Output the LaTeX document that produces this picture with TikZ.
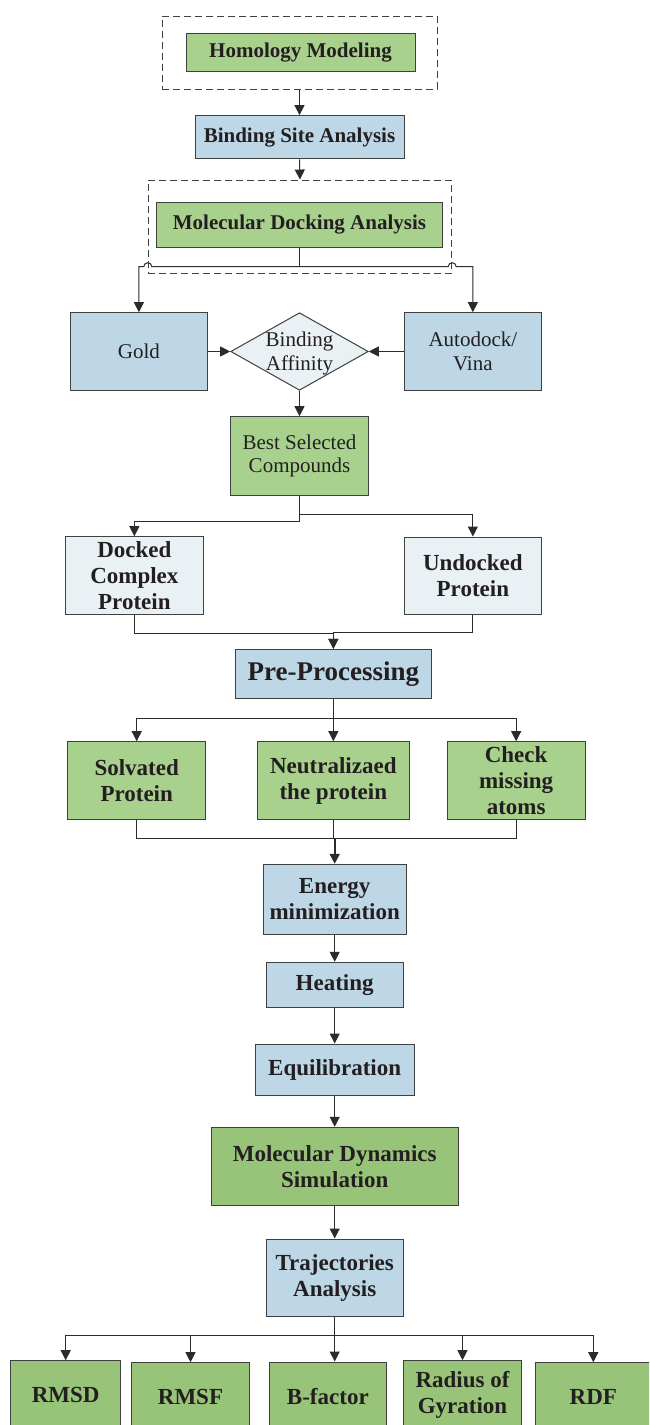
\documentclass[tikz,border=0pt]{standalone}
\usepackage{fontspec}
\setmainfont{Liberation Serif}
\usetikzlibrary{arrows.meta,shapes.geometric,calc}
\definecolor{gl}{HTML}{A9D18E}
\definecolor{gd}{HTML}{98C479}
\definecolor{bl}{HTML}{BDD7E7}
\definecolor{pl}{HTML}{E9F1F5}
\definecolor{lc}{HTML}{2B2B2B}
\definecolor{bd}{HTML}{404040}
\definecolor{tx}{HTML}{231F20}
\begin{document}
\begin{tikzpicture}[x=1pt,y=-1pt,
  box/.style={draw=bd, line width=1pt, inner sep=0pt, align=center, text=tx},
  bf/.style={font=\fontsize{23}{26}\selectfont\bfseries},
  bs/.style={font=\fontsize{21}{25}\selectfont\bfseries},
  rg/.style={font=\fontsize{21}{23.5}\selectfont},
  conn/.style={draw=lc, line width=1pt},
  arr/.style={draw=lc, line width=1pt, -{Triangle[length=10pt,width=10pt]}},
  dbox/.style={draw=bd, dash pattern=on 7pt off 4pt, line width=1pt, inner sep=0pt},
]
\useasboundingbox (0,0) rectangle (649,1425);
\clip (0,0) rectangle (649,1425);
\fill[white] (0,0) rectangle (649,1425);

% nodes
\node[dbox, minimum width=275pt, minimum height=73.3pt] (d1) at (299.5,52.65) {};
\node[box, bs, fill=gl, minimum width=229pt, minimum height=37.7pt] (hom) at (300.5,52.2) {Homology Modeling};
\node[box, bs, fill=bl, minimum width=209pt, minimum height=43.3pt] (bsa) at (299.5,137.3) {Binding Site Analysis};
\node[dbox, minimum width=303.4pt, minimum height=93.3pt] (d2) at (300,226.7) {};
\node[box, bs, fill=gl, minimum width=285.6pt, minimum height=45pt] (mda) at (299.5,224.8) {Molecular Docking Analysis};

\node[box, rg, fill=bl, minimum width=137.7pt, minimum height=77.6pt] (gold) at (138.9,351.5) {Gold};
\node[diamond, draw=bd, line width=1pt, fill=pl, inner sep=0pt, minimum width=137.6pt, minimum height=77.6pt] (aff) at (299.5,351.5) {};
\node[rg, text=tx, align=center, inner sep=0pt] (afft) at ($(aff.center)+(0,2)$) {Binding\\Affinity};
\node[box, rg, fill=bl, minimum width=137.7pt, minimum height=77.6pt] (auto) at (472.85,351.5) {Autodock/\\Vina};
\node[box, rg, fill=gl, minimum width=137.6pt, minimum height=78.3pt] (best) at (299.5,455.85) {Best Selected\\Compounds};

\node[box, bf, fill=pl, minimum width=137.3pt, minimum height=77.6pt] (dock) at (134.35,575.5) {Docked\\Complex\\Protein};
\node[box, bf, fill=pl, minimum width=137.7pt, minimum height=77.3pt] (undock) at (472.85,575.65) {Undocked\\Protein};
\node[box, font=\fontsize{27}{30}\selectfont\bfseries, fill=bl, minimum width=195.3pt, minimum height=49pt] (pre) at (333.35,673.8) {Pre-Processing};

\node[box, bf, fill=gl, minimum width=138pt, minimum height=77.6pt] (solv) at (136.7,780.5) {Solvated\\Protein};
\node[box, bf, fill=gl, minimum width=151.3pt, minimum height=77.6pt] (neut) at (333.35,780.5) {Neutralizaed\\the protein};
\node[box, bf, fill=gl, minimum width=137.7pt, minimum height=77.6pt] (chk) at (516.15,780.5) {Check\\missing\\atoms};

\node[box, bf, fill=bl, minimum width=143.4pt, minimum height=69.7pt] (emin) at (334.7,899.15) {Energy\\minimization};
\node[box, bf, fill=bl, minimum width=137pt, minimum height=45.4pt] (heat) at (334.7,985) {Heating};
\node[box, bf, fill=bl, minimum width=159.3pt, minimum height=51pt] (equi) at (334.7,1069.5) {Equilibration};
\node[box, bf, fill=gd, minimum width=247.3pt, minimum height=77.7pt] (mds) at (334.7,1166.15) {Molecular Dynamics\\Simulation};
\node[box, bf, fill=bl, minimum width=137.3pt, minimum height=77.7pt] (traj) at (334.7,1277.85) {Trajectories\\Analysis};

\node[box, bf, fill=gd, minimum width=110pt, minimum height=69pt] (rmsd) at (65.7,1395.2) {RMSD};
\node[box, bf, fill=gd, minimum width=117.6pt, minimum height=69pt] (rmsf) at (190.5,1397.2) {RMSF};
\node[box, bf, fill=gd, minimum width=117.7pt, minimum height=69pt] (bfac) at (327.85,1396.5) {B-factor};
\node[box, bf, fill=gd, minimum width=118.4pt, minimum height=69pt] (rog) at (462.5,1395.2) {Radius of\\Gyration};
\node[box, bf, fill=gd, minimum width=116pt, minimum height=69pt] (rdf) at (593.3,1397.2) {RDF};

% connectors
\draw[arr] (d1.south) -- (bsa.north);
\draw[arr] (bsa.south) -- (d2.north);
\coordinate (j1) at (299.5,266.7);
\draw[conn] (mda.south) -- (j1);
\draw[arr] (j1) -- ($(d2.west |- j1)+(4,0)$) arc[start angle=0,end angle=180,radius=4pt] -- (gold.north |- j1) -- (gold.north);
\draw[arr] (j1) -- ($(d2.east |- j1)+(-4,0)$) arc[start angle=180,end angle=0,radius=4pt] -- (auto.north |- j1) -- (auto.north);
\draw[arr] (gold.east) -- (aff.west);
\draw[arr] (auto.west) -- (aff.east);
\draw[arr] (aff.south) -- (best.north);

\coordinate (j2) at (299.5,514);
\coordinate (j3) at (299.5,521);
\draw[arr] (best.south) -- (j2) -| (undock.north);
\draw[arr] (best.south) -- (j3) -| (dock.north);
\draw[arr] (dock.south) -- ++(0,19) -| (pre.north);
\draw[arr] (undock.south) -- ++(0,17.4) -| (pre.north);

\coordinate (j4) at (333.35,718.3);
\draw[arr] (pre.south) -- (neut.north);
\draw[arr] (j4) -| (solv.north);
\draw[arr] (j4) -| (chk.north);
\coordinate (j5) at (333.35,838.3);
\draw[conn] (solv.south) |- (j5);
\draw[conn] (chk.south) |- (j5);
\draw[conn] (neut.south) -- (j5);
\draw[arr, line width=1.8pt] (emin.north |- j5) -- (emin.north);

\draw[arr] (emin.south) -- (heat.north);
\draw[arr] (heat.south) -- (equi.north);
\draw[arr] (equi.south) -- (mds.north);
\draw[arr] (mds.south) -- (traj.north);

\coordinate (j6) at (334.7,1335.7);
\draw[arr] (traj.south) -- (traj.south |- bfac.north);
\draw[arr] (j6) -| (rmsd.north);
\draw[arr] (j6) -| (rmsf.north);
\draw[arr] (j6) -| (rog.north);
\draw[arr] (j6) -| (rdf.north);
\end{tikzpicture}
\end{document}
